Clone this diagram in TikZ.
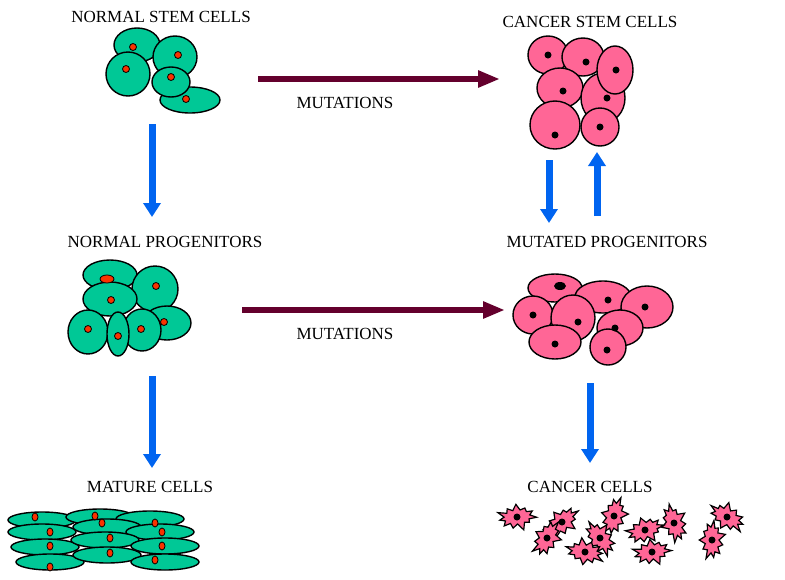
\documentclass[tikz,border=0pt]{standalone}
\usepackage{fontspec}
\setmainfont{Liberation Serif}
\usetikzlibrary{arrows.meta,shapes.symbols}
\definecolor{cell_green}{RGB}{0,200,150}
\definecolor{cell_pink}{RGB}{255,102,150}
\definecolor{nuc_red}{RGB}{250,50,0}
\definecolor{arr_blue}{RGB}{0,100,240}
\definecolor{arr_maroon}{RGB}{100,0,45}

\tikzset{
  gcell/.style={fill=cell_green, draw=black, line width=1.4pt},
  pcell/.style={fill=cell_pink, draw=black, line width=1.4pt},
  rnuc/.style={fill=nuc_red, draw=black, line width=0.8pt},
  title/.style={font=\fontsize{17}{19}\selectfont},
  down/.style={-{Triangle[length=14pt,width=17pt]}, line width=7pt, arr_blue},
  mut/.style={-{Triangle[length=22pt,width=16pt]}, line width=6pt, arr_maroon},
  spiky/.style={starburst, starburst points=11, starburst point height=8pt,
    minimum width=42pt, minimum height=30pt, fill=cell_pink, draw=black, line width=1.2pt}
}

\begin{document}
\begin{tikzpicture}[x=1pt, y=-1pt]
      \useasboundingbox (0,0) rectangle (785,579);

      % labels
      \node[title] (nsc) at (161,17) {NORMAL STEM CELLS};
      \node[title] (csc) at (590,22) {CANCER STEM CELLS};
      \node[title] (npg) at (165,242) {NORMAL PROGENITORS};
      \node[title] (mpg) at (607,242) {MUTATED PROGENITORS};
      \node[title] (mat) at (150,487) {MATURE CELLS};
      \node[title] (cac) at (590,487) {CANCER CELLS};
      \node[title] (mut1) at (345,103) {MUTATIONS};
      \node[title] (mut2) at (345,334) {MUTATIONS};

      % normal stem cells
      \foreach \x/\y/\a/\b in {137/45/23/17, 175/57/22/21, 128/74/22/22, 190/100/30/13, 171/82/19/15}
        \draw[gcell] (\x,\y) ellipse ({\a} and {\b});
      \foreach \x/\y in {133/47, 178/55, 126/69, 186/99, 171/77}
        \fill[rnuc] (\x,\y) circle (3.5);

      % normal progenitors
      \foreach \x/\y/\a/\b in {110/275/27/15, 155/289/23/23, 110/299/27/17, 167/323/24/17, 88/332/20/22, 142/330/19/21, 118/334/11/22}
        \draw[gcell] (\x,\y) ellipse ({\a} and {\b});
      \draw[rnuc] (107,279) ellipse (7 and 4);
      \foreach \x/\y in {156/286, 111/300, 164/322, 88/329, 141/329, 118/336}
        \fill[rnuc] (\x,\y) circle (3.5);

      % mature cells
      \foreach \x/\y in {42/520, 100/517, 150/519, 42/532, 107/527, 160/532, 45/547, 105/540, 165/546, 50/562, 107/555, 165/562}
        \draw[gcell] (\x,\y) ellipse (34 and 8);
      \foreach \x/\y in {35/517, 95/516, 155/523, 102/523, 50/532, 110/538, 162/532, 50/546, 110/553, 162/546, 155/560, 50/567}
        \draw[rnuc] (\x,\y) ellipse (3 and 4);

      % cancer stem cells
      \foreach \x/\y/\a/\b in {548/55/20/19, 583/57/21/19, 560/88/23/20, 603/98/22/25, 615/70/18/24, 555/125/25/24, 600/127/19/19}
        \draw[pcell] (\x,\y) ellipse ({\a} and {\b});
      \foreach \x/\y in {548/55, 586/62, 563/91, 607/98, 616/70, 555/135, 600/127}
        \fill (\x,\y) circle (3.5);

      % mutated progenitors
      \foreach \x/\y/\a/\b in {555/288/27/14, 603/297/28/16, 647/307/26/21, 533/315/20/19, 573/318/22/23, 620/328/23/18, 555/342/26/17, 608/347/18/18}
        \draw[pcell] (\x,\y) ellipse ({\a} and {\b});
      \fill (560,286) ellipse (6 and 4);
      \foreach \x/\y in {608/300, 645/307, 533/315, 578/322, 615/328, 555/344, 607/350}
        \fill (\x,\y) circle (3.5);

      % cancer cells
      \foreach \x/\y/\r in {517/517/5, 562/522/40, 614/516/75, 674/523/110, 727/517/150, 645/530/20, 547/538/60, 712/540/90, 600/538/130, 585/552/170, 652/552/10}
        \node[spiky, rotate=\r] at (\x,\y) {};
      \foreach \x/\y in {517/517, 562/522, 614/516, 674/523, 727/517, 645/530, 547/538, 712/540, 600/538, 585/552, 652/552}
        \fill (\x,\y) circle (3.5);

      % arrows
      \coordinate (a1) at (152,124); \coordinate (b1) at (152,217);
      \coordinate (a2) at (152,376); \coordinate (b2) at (152,468);
      \coordinate (a3) at (549,160); \coordinate (b3) at (549,223);
      \coordinate (a4) at (597,216); \coordinate (b4) at (597,152);
      \coordinate (a5) at (590,383); \coordinate (b5) at (590,463);
      \coordinate (m1) at (258,79);  \coordinate (n1) at (500,79);
      \coordinate (m2) at (242,310); \coordinate (n2) at (505,310);
      \foreach \s/\e in {a1/b1, a2/b2, a3/b3, a4/b4, a5/b5}
        \draw[down] (\s) -- (\e);
      \draw[mut] (m1) -- (n1);
      \draw[mut] (m2) -- (n2);

    \end{tikzpicture}
\end{document}
